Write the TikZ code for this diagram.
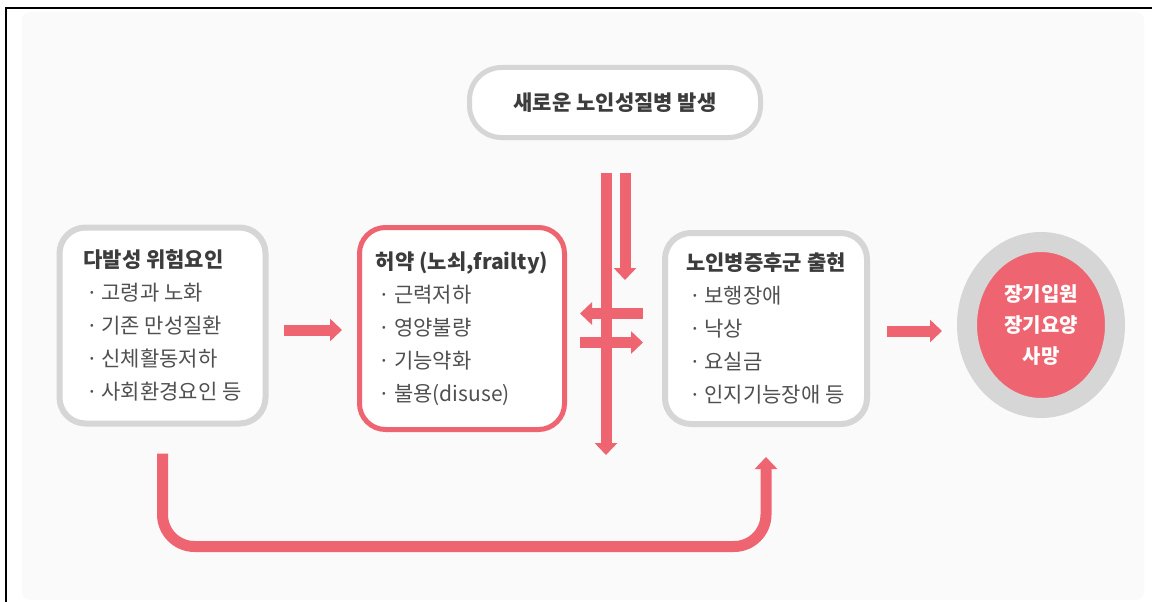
\documentclass[tikz,border=0pt]{standalone}
\usepackage{fontspec}
\setmainfont{Noto Sans CJK KR}
\usetikzlibrary{arrows.meta,calc,shapes.geometric}
\definecolor{pinkc}{HTML}{EE6571}
\definecolor{grayb}{HTML}{D6D6D6}
\definecolor{bgc}{HTML}{FAFAFA}
\definecolor{txt}{HTML}{3C3C3C}
\definecolor{txtl}{HTML}{505050}
\newcommand{\itm}[1]{\hspace*{3pt}{\color{txtl}·\,#1}}
\begin{document}
\begin{tikzpicture}[x=1pt,y=-1pt,
  box/.style={draw=grayb, line width=6pt, fill=white, rounded corners=26pt,
    align=left, text=txt, font=\fontsize{21}{33}\selectfont, inner sep=0pt},
  pbox/.style={box, draw=pinkc, line width=5pt},
  arr/.style={draw=pinkc, line width=11pt, -{Triangle[width=22pt,length=12pt]}}]
\useasboundingbox (0,0) rectangle (1152,602);
\fill[bgc, rounded corners=8pt] (22,12) rectangle (1144,600);
\draw[line width=1.5pt] (6,602) -- (6,8) -- (1152,8);

\node[box, line width=5pt, rounded corners=32pt, minimum width=291pt, minimum height=70pt, align=center]
  (top) at (615,102.5) {\textbf{새로운 노인성질병 발생}};

\node[box, minimum width=206pt, minimum height=196pt] (risk) at (162.5,325.5)
  {\textbf{다발성 위험요인}\\ \itm{고령과 노화}\\ \itm{기존 만성질환}\\ \itm{신체활동저하}\\ \itm{사회환경요인 등}};

\node[pbox, minimum width=205pt, minimum height=202pt] (frail) at (462,328.5)
  {\textbf{허약 (노쇠,frailty)}\\ \itm{근력저하}\\ \itm{영양불량}\\ \itm{기능약화}\\ \itm{불용(disuse)}};

\node[box, minimum width=202pt, minimum height=191pt] (synd) at (766,328.5)
  {\textbf{노인병증후군 출현}\\ \itm{보행장애}\\ \itm{낙상}\\ \itm{요실금}\\ \itm{인지기능장애 등}};

\node[ellipse, draw=grayb, fill=pinkc, line width=20pt, minimum width=148pt, minimum height=166pt,
  inner sep=0pt, align=center, text=white, font=\bfseries\fontsize{20}{31}\selectfont]
  (end) at (1041,325) {장기입원\\장기요양\\사망};

% horizontal arrows
\draw[arr, shorten <=15pt, shorten >=15pt] (risk.east |- 0,330) -- (frail.west |- 0,330);
\draw[arr, shorten <=17pt, shorten >=15pt] (synd.east |- 0,331) -- (end.west |- 0,331);

% vertical arrows from new disease
\coordinate (v1) at ($(top.south)+(-9,33)$);
\coordinate (v2) at ($(top.south)+(10,33)$);
\coordinate (v1e) at (v1 |- 0,455);
\coordinate (v2e) at (v2 |- 0,280);
\draw[arr] (v1) -- (v1e);
\draw[arr] (v2) -- (v2e);

% frail <-> syndrome
\draw[arr] ($(synd.west)+(-19,-15)$) -- ($(frail.east)+(13,-15)$);
\draw[arr] ($(frail.east)+(13,14)$) -- ($(synd.west)+(-19,14)$);

% bottom U arrow
\draw[arr, rounded corners=32pt] ($(risk.south)+(0,27)$) -- ++(0,93) -| ($(synd.south)+(0,30)$);
\end{tikzpicture}
\end{document}
